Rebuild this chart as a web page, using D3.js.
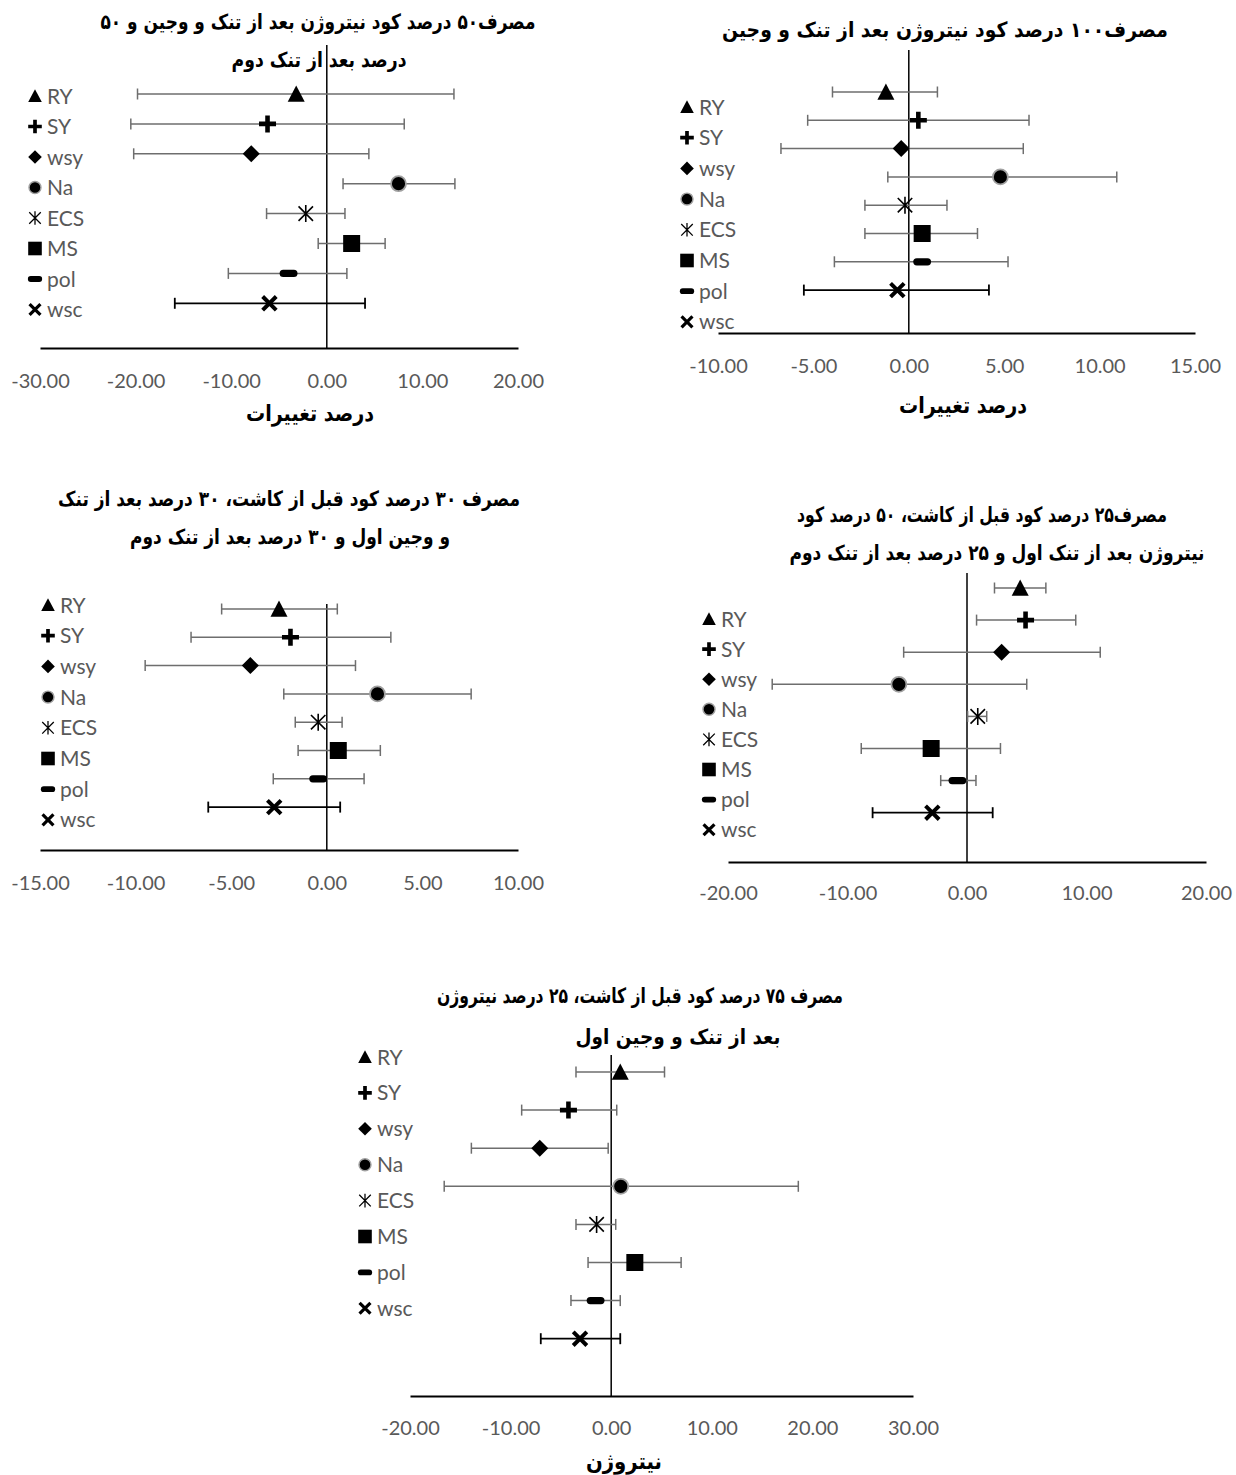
<!DOCTYPE html>
<html>
<head>
<meta charset="utf-8">
<script src="https://cdn.jsdelivr.net/npm/d3@7"></script>
<style>
  html, body { margin: 0; padding: 0; background: #fff; }
  svg { display: block; }
  .tick text { font-family: "Lato", "Open Sans", sans-serif; fill: #595959; }
  .leg { font-family: "Lato", "Open Sans", sans-serif; fill: #595959; }
  .ttl { font-family: "DejaVu Sans", sans-serif; font-weight: bold; fill: #000; }
</style>
</head>
<body>
<script>
// Traits shown in every panel (top to bottom)
const categories = ["RY", "SY", "wsy", "Na", "ECS", "MS", "pol", "wsc"];

// Panel 1: 50% N after thinning/weeding + 50% after second thinning
const p1Mean = [-3.2, -6.2, -7.9, 7.5, -2.2, 2.6, -4.0, -6.0];
const p1Low  = [-19.8, -20.5, -20.2, 1.7, -6.3, -0.9, -10.3, -15.9];
const p1High = [13.3, 8.1, 4.4, 13.4, 1.9, 6.1, 2.1, 4.0];
const p1Ticks = [-30, -20, -10, 0, 10, 20];

// Panel 2: 100% N after thinning and weeding
const p2Mean = [-1.2, 0.5, -0.4, 4.8, -0.2, 0.7, 0.7, -0.6];
const p2Low  = [-4.0, -5.3, -6.7, -1.1, -2.3, -2.3, -3.9, -5.5];
const p2High = [1.5, 6.3, 6.0, 10.9, 2.0, 3.6, 5.2, 4.2];
const p2Ticks = [-10, -5, 0, 5, 10, 15];

// Panel 3: 30% pre-planting, 30% after first thinning, 30% after second
const p3Mean = [-2.5, -1.9, -4.0, 2.65, -0.45, 0.6, -0.45, -2.75];
const p3Low  = [-5.5, -7.1, -9.5, -2.25, -1.65, -1.5, -2.8, -6.2];
const p3High = [0.55, 3.35, 1.5, 7.55, 0.8, 2.8, 1.95, 0.7];
const p3Ticks = [-15, -10, -5, 0, 5, 10];

// Panel 4: 25% pre-planting, 50% after first thinning, 25% after second
const p4Mean = [4.45, 4.9, 2.9, -5.7, 0.9, -3.0, -0.8, -2.9];
const p4Low  = [2.3, 0.8, -5.3, -16.3, 0.05, -8.85, -2.2, -7.9];
const p4High = [6.6, 9.1, 11.15, 5.0, 1.65, 2.8, 0.75, 2.15];
const p4Ticks = [-20, -10, 0, 10, 20];

// Panel 5: 75% pre-planting, 25% after first thinning and weeding
const p5Mean = [0.9, -4.25, -7.1, 0.95, -1.45, 2.35, -1.55, -3.1];
const p5Low  = [-3.5, -8.9, -13.9, -16.6, -3.5, -2.3, -4.0, -7.0];
const p5High = [5.3, 0.55, -0.3, 18.6, 0.45, 6.95, 0.9, 0.9];
const p5Ticks = [-20, -10, 0, 10, 20, 30];

const titles = [
  ["مصرف۵۰ درصد کود نیتروژن بعد از تنک و وجین و ۵۰", "درصد بعد از تنک دوم"],
  ["مصرف۱۰۰ درصد کود نیتروژن بعد از تنک و وجین"],
  ["مصرف ۳۰ درصد کود قبل از کاشت، ۳۰ درصد بعد از تنک", "و وجین اول و ۳۰ درصد بعد از تنک دوم"],
  ["مصرف۲۵ درصد کود قبل از کاشت، ۵۰ درصد کود", "نیتروژن بعد از تنک اول و ۲۵ درصد بعد از تنک دوم"],
  ["مصرف ۷۵ درصد کود قبل از کاشت، ۲۵ درصد نیتروژن", "بعد از تنک و وجین اول"]
];
const axisTitles = ["درصد تغییرات", "درصد تغییرات", "", "", "نیتروژن"];

// Layout of each panel
const panels = [
  { mean: p1Mean, low: p1Low, high: p1High, ticks: p1Ticks,
    x0: 40, x1: 518, axisY: 348, zeroTop: 45, rowY0: 94, rowStep: 29.9,
    legX: 35, legY0: 96, legStep: 30.5, tickY: 388,
    titleX: [318, 319], titleY: [29, 67], titleW: [435, 175],
    axTitleX: 310, axTitleY: 421, axTitleW: 128 },
  { mean: p2Mean, low: p2Low, high: p2High, ticks: p2Ticks,
    x0: 718, x1: 1195, axisY: 333, zeroTop: 50, rowY0: 92, rowStep: 28.3,
    legX: 687, legY0: 107, legStep: 30.7, tickY: 373,
    titleX: [945], titleY: [37], titleW: [446],
    axTitleX: 963, axTitleY: 413, axTitleW: 128 },
  { mean: p3Mean, low: p3Low, high: p3High, ticks: p3Ticks,
    x0: 40, x1: 518, axisY: 850, zeroTop: 604, rowY0: 609, rowStep: 28.3,
    legX: 48, legY0: 605, legStep: 30.7, tickY: 890,
    titleX: [289, 290], titleY: [506, 544], titleW: [462, 320],
    axTitleX: 0, axTitleY: 0, axTitleW: 0 },
  { mean: p4Mean, low: p4Low, high: p4High, ticks: p4Ticks,
    x0: 728, x1: 1206, axisY: 862, zeroTop: 573, rowY0: 588, rowStep: 32.1,
    legX: 709, legY0: 619, legStep: 30.1, tickY: 900,
    titleX: [982, 997], titleY: [522, 560], titleW: [370, 415],
    axTitleX: 0, axTitleY: 0, axTitleW: 0 },
  { mean: p5Mean, low: p5Low, high: p5High, ticks: p5Ticks,
    x0: 410, x1: 913, axisY: 1396, zeroTop: 1055, rowY0: 1072, rowStep: 38.1,
    legX: 365, legY0: 1057, legStep: 35.9, tickY: 1435,
    titleX: [640, 678], titleY: [1003, 1044], titleW: [406, 205],
    axTitleX: 624, axTitleY: 1469, axTitleW: 76 }
];

// Marker shapes, centred on the origin, scaled by k
function drawMarker(g, kind, k) {
  const s = 8.5 * k;
  switch (kind) {
    case 0: // triangle
      g.append("path").attr("d", `M0,${-s} L${s},${s * 0.9} L${-s},${s * 0.9} Z`).attr("fill", "#000");
      break;
    case 1: { // plus
      const t = 2.3 * k;
      g.append("path").attr("d",
        `M${-t},${-s} H${t} V${-t} H${s} V${t} H${t} V${s} H${-t} V${t} H${-s} V${-t} H${-t} Z`).attr("fill", "#000");
      break; }
    case 2: // diamond
      g.append("path").attr("d", `M0,${-s} L${s},0 L0,${s} L${-s},0 Z`).attr("fill", "#000");
      break;
    case 3: // circle with grey rim
      g.append("circle").attr("r", s * 0.88).attr("fill", "#000").attr("stroke", "#a0a0a0").attr("stroke-width", 1.8 * k);
      break;
    case 4: { // asterisk
      const a = s * 0.85;
      g.append("path").attr("d", `M${-a},${-a} L${a},${a} M${-a},${a} L${a},${-a} M0,${-s} V${s}`)
        .attr("stroke", "#000").attr("stroke-width", 1.6 * k).attr("fill", "none");
      break; }
    case 5: // square
      g.append("rect").attr("x", -s).attr("y", -s).attr("width", 2 * s).attr("height", 2 * s).attr("fill", "#000");
      break;
    case 6: // rounded dash
      g.append("rect").attr("x", -s * 1.05).attr("y", -3.6 * k).attr("width", 2.1 * s).attr("height", 7.2 * k)
        .attr("rx", 3.6 * k).attr("fill", "#000");
      break;
    case 7: { // bold cross
      const a = s * 0.8;
      g.append("path").attr("d", `M${-a},${-a} L${a},${a} M${-a},${a} L${a},${-a}`)
        .attr("stroke", "#000").attr("stroke-width", 4 * k).attr("fill", "none");
      break; }
  }
}

// Bold right-to-left heading, fitted to width w and stretched a little vertically
function heading(g, text, cx, baseY, w, size, stretch) {
  g.append("g").attr("transform", `translate(${cx},${baseY}) scale(1,${stretch})`)
    .append("text").attr("class", "ttl").attr("direction", "rtl")
    .attr("x", w / 2).attr("y", 0).attr("text-anchor", "start")
    .attr("font-size", size).attr("textLength", w).attr("lengthAdjust", "spacingAndGlyphs")
    .text(text);
}

const svg = d3.select("body").append("svg").attr("width", 1236).attr("height", 1475);

const fmt = v => v.toFixed(2);

panels.forEach((p, pi) => {
  const g = svg.append("g");
  const x = d3.scaleLinear().domain([p.ticks[0], p.ticks[p.ticks.length - 1]]).range([p.x0, p.x1]);
  const y = d3.scaleLinear().domain([0, categories.length - 1])
    .range([p.rowY0, p.rowY0 + (categories.length - 1) * p.rowStep]);

  titles[pi].forEach((t, i) => heading(g, t, p.titleX[i], p.titleY[i], p.titleW[i], 17.5, 1.2));

  // x axis
  const ax = g.append("g").attr("transform", `translate(0,${p.axisY})`)
    .call(d3.axisBottom(x).tickValues(p.ticks).tickFormat(fmt).tickSize(0).tickSizeOuter(0));
  ax.select(".domain").attr("stroke", "#000").attr("stroke-width", 2);
  ax.selectAll(".tick text").attr("font-size", 20).attr("y", p.tickY - p.axisY).attr("dy", 0);

  // zero line
  g.append("line").attr("x1", x(0)).attr("x2", x(0)).attr("y1", p.zeroTop).attr("y2", p.axisY)
    .attr("stroke", "#000").attr("stroke-width", 1.5);

  if (axisTitles[pi]) heading(g, axisTitles[pi], p.axTitleX, p.axTitleY, p.axTitleW, 18.5, 1.2);

  // error bars
  categories.forEach((c, i) => {
    const col = i === 7 ? "#000" : "#6e6e6e";
    const yy = y(i);
    const eb = g.append("g").attr("stroke", col).attr("stroke-width", i === 7 ? 1.8 : 1.5);
    eb.append("line").attr("x1", x(p.low[i])).attr("x2", x(p.high[i])).attr("y1", yy).attr("y2", yy);
    [p.low[i], p.high[i]].forEach(v => {
      eb.append("line").attr("x1", x(v)).attr("x2", x(v)).attr("y1", yy - 5.5).attr("y2", yy + 5.5);
    });
  });

  // markers
  categories.forEach((c, i) => {
    const m = g.append("g").attr("transform", `translate(${x(p.mean[i])},${y(i)})`);
    drawMarker(m, i, 1);
  });

  // legend
  categories.forEach((c, i) => {
    const ly = p.legY0 + i * p.legStep;
    const m = g.append("g").attr("transform", `translate(${p.legX},${ly})`);
    drawMarker(m, i, 0.8);
    g.append("text").attr("class", "leg").attr("x", p.legX + 12).attr("y", ly + 7.5)
      .attr("font-size", 21).text(c);
  });
});
</script>
</body>
</html>
